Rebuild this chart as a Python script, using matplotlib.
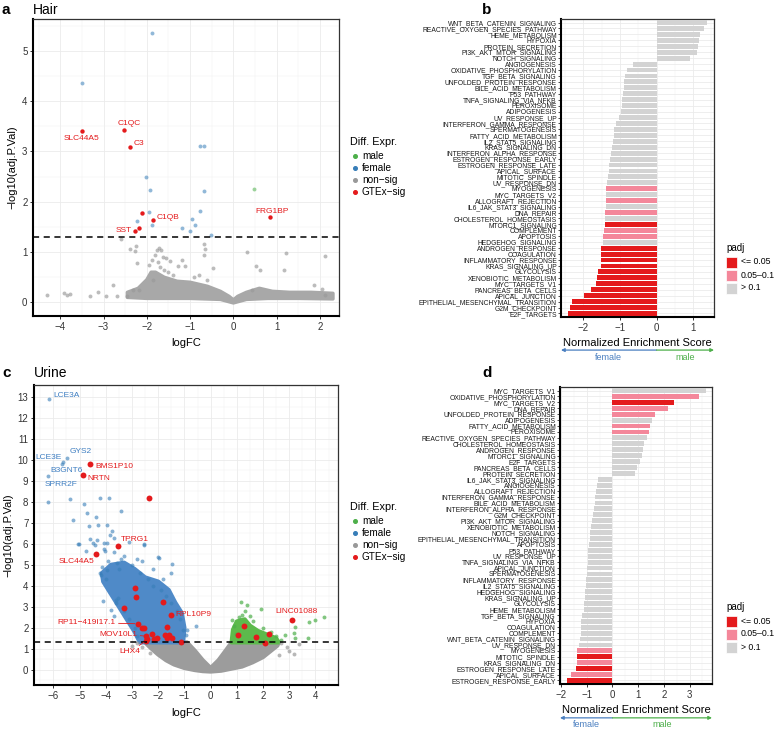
import matplotlib
matplotlib.use('Agg')
import matplotlib.pyplot as plt
from matplotlib.lines import Line2D
from matplotlib.patches import Rectangle, Polygon
from matplotlib.ticker import MultipleLocator

plt.rcParams['font.family'] = ['Liberation Sans', 'DejaVu Sans']

# ---------------- DATA ----------------
# Panel a (Hair) volcano
a_cloud_x = [-2.45, -2.2, -2.0, -1.9, -1.8, -1.6, -1.3, -1.0, -0.6, -0.3, -0.1, 0.0, 0.1, 0.3, 0.6, 0.9, 1.3, 1.8, 2.3,
             2.3, 1.5, 0.8, 0.3, 0.0, -0.3, -1.0, -2.0, -2.45]
a_cloud_y = [0.2, 0.28, 0.45, 0.6, 0.6, 0.5, 0.42, 0.4, 0.32, 0.22, 0.12, 0.05, 0.12, 0.2, 0.28, 0.22, 0.2, 0.2, 0.18,
             0.07, 0.08, 0.08, 0.06, -0.01, 0.06, 0.08, 0.08, 0.1]
a_ns_x = [-4.31, -3.92, -3.85, -3.77, -3.32, -3.13, -2.94, -2.78, -2.69, -2.60, -2.46, -2.38, -2.32, -2.28, -2.24,
          -2.23, -2.17, -1.85, -1.77, -1.71, -1.67, -1.62, -1.55, -1.46, -1.27, -1.19, -1.11, -0.69, -0.65, -0.46,
          -0.69, 0.31, 0.52, 0.61, 0.42, 1.22, 2.12, 1.87, 2.04, 2.12, 1.16,
          -1.95, -1.88, -1.80, -1.75, -1.70, -1.60, -1.50, -1.40, -0.90, -0.80, -0.60]
a_ns_y = [0.14, 0.19, 0.14, 0.17, 0.13, 0.20, 0.13, 0.35, 0.13, 1.26, 0.13, 1.07, 0.24, 1.03, 1.13,
          0.78, 0.25, 0.45, 1.05, 1.08, 1.05, 0.91, 0.88, 0.82, 0.72, 0.85, 0.72, 1.16, 1.07, 0.68,
          0.94, 1.01, 0.73, 0.65, 0.25, 0.99, 0.92, 0.34, 0.26, 0.14, 0.65,
          0.75, 0.85, 0.95, 0.80, 0.70, 0.65, 0.60, 0.55, 0.50, 0.55, 0.45]
a_fem_x = [-1.87, -3.49, -0.78, -0.68, -2.03, -1.93, -0.68, -1.94, -2.23, -1.88, -0.77, -0.95, -0.88, -1.18, -1.00, -0.52]
a_fem_y = [5.36, 4.36, 3.11, 3.11, 2.50, 2.24, 2.21, 1.80, 1.61, 1.54, 1.81, 1.65, 1.53, 1.47, 1.42, 1.33]
a_male_x = [0.47]
a_male_y = [2.25]
a_gtex_x = [-3.49, -2.52, -2.38, -2.11, -1.86, -2.18, -2.28, 0.85]
a_gtex_y = [3.41, 3.43, 3.08, 1.77, 1.63, 1.47, 1.42, 1.69]
a_gtex_lab = ['SLC44A5', 'C1QC', 'C3', '', 'C1QB', '', 'SST', 'FRG1BP']

# Panel c (Urine) volcano
c_cloud_x = [-2.5, -2.3, -2.0, -1.7, -1.4, -1.0, -0.6, -0.3, 0.0, 0.4, 0.8, 1.2, 1.6, 2.0, 2.3, 2.55, 2.6,
             2.0, 1.4, 0.8, 0.6, 0.3, 0.0, -0.3, -0.6, -0.9, -1.5, -2.5]
c_cloud_y = [1.3, 1.05, 0.72, 0.45, 0.25, 0.08, -0.02, -0.07, -0.09, -0.05, 0.05, 0.15, 0.35, 0.6, 0.9, 1.15, 1.3,
             1.3, 1.3, 1.3, 0.95, 0.45, 0.08, 0.45, 0.9, 1.3, 1.3, 1.3]
c_ns_x = [-3.0, -2.8, -2.6, -2.3, 2.7, 2.9, 3.38, 3.17, 3.0, 2.6]
c_ns_y = [1.15, 1.25, 1.10, 0.80, 1.25, 1.10, 1.23, 0.76, 0.90, 0.70]
c_fcore_x = [-1.05, -1.0, -1.1, -1.35, -1.6, -2.0, -2.5, -2.9, -3.3, -3.8, -4.15, -4.1, -3.8, -3.5, -3.2, -2.9, -2.7]
c_fcore_y = [1.3, 2.0, 2.7, 3.2, 3.8, 4.2, 4.4, 4.8, 5.1, 5.0, 4.6, 4.2, 3.6, 3.0, 2.4, 1.8, 1.3]
c_fem_x = [-6.17, -5.49, -5.64, -5.68, -6.21, -6.21, -5.35, -4.82, -4.21, -3.89, -3.41, -4.73, -4.37, -5.25, -4.66,
           -4.30, -3.95, -3.78, -3.85, -5.06, -4.59, -4.33, -4.08, -3.95, -4.40, -4.74, -4.06, -4.02, -2.54, -1.99,
           -2.81, -5.03, -4.50, -4.22, -4.14, -3.95, -1.49, -2.54, -1.97, -3.58, -3.42, -3.49, -4.12, -3.61, -3.52,
           -3.80, -3.68, -0.57, -0.89, -0.95, -4.2, -4.0, -3.9, -3.7, -3.3, -3.0, -2.7, -2.4, -2.2, -1.9, -1.7,
           -1.5, -1.3, -1.15, -1.05, -3.6, -3.3, -3.1, -2.9, -2.8, -1.5, -1.8, -2.2, -2.6, -3.1, -3.7]
c_fem_y = [12.92, 10.11, 9.89, 9.80, 9.23, 7.98, 8.13, 7.91, 8.17, 8.17, 7.58, 7.46, 7.30, 7.14, 6.84,
           6.92, 6.92, 6.62, 6.40, 6.00, 6.24, 6.19, 6.05, 6.05, 5.94, 5.64, 5.75, 5.65, 5.92, 5.39,
           5.29, 5.97, 6.05, 4.63, 4.88, 4.77, 5.02, 5.97, 5.34, 5.09, 5.26, 4.82, 3.26, 3.16, 3.44,
           2.86, 2.57, 2.10, 1.90, 1.67, 4.5, 4.3, 5.2, 5.6, 5.4, 5.0, 4.6, 4.3, 4.0, 3.8, 3.5,
           3.2, 2.8, 2.4, 1.9, 3.3, 2.8, 2.4, 2.0, 1.6, 4.6, 4.3, 4.8, 5.2, 6.1, 6.3]
c_fem_lab = {0: 'LCE3A', 1: 'GYS2', 2: 'LCE3E', 3: 'B3GNT6', 4: 'SPRR2F'}
c_mcore_x = [0.8, 0.85, 1.0, 1.3, 1.5, 1.8, 2.2, 2.5, 2.6]
c_mcore_y = [1.3, 1.9, 2.3, 2.4, 2.1, 1.85, 1.65, 1.5, 1.3]
c_male_x = [1.14, 1.40, 1.91, 0.82, 1.33, 4.33, 3.99, 3.74, 3.21, 3.17, 3.21, 2.85, 3.71,
            0.9, 1.1, 1.6, 2.0, 2.3, 2.5, 2.7, 1.2, 0.95, 1.5]
c_male_y = [3.21, 3.08, 2.89, 2.38, 2.81, 2.50, 2.37, 2.26, 2.02, 1.74, 1.50, 1.63, 1.52,
            2.1, 2.5, 2.3, 2.0, 1.8, 1.6, 1.4, 2.6, 1.7, 2.55]
c_gtex_x = [-4.60, -4.87, -2.37, -3.54, -4.36, -2.89, -2.84, -3.32, -1.81, -1.52, -2.78, -2.56, -2.63, -2.45,
            -2.22, -1.68, -1.74, -1.58, -1.68, -1.46, -1.14, -2.03, -2.17, -2.41, -2.45, 1.04, 1.27, 1.72,
            2.23, 2.06, 3.12]
c_gtex_y = [9.80, 9.26, 8.17, 5.91, 5.51, 3.89, 3.47, 2.95, 3.24, 2.62, 2.19, 2.00, 1.97, 1.60,
            1.71, 2.02, 1.66, 1.66, 1.50, 1.50, 1.33, 1.50, 1.44, 1.47, 1.38, 1.63, 2.07, 1.55,
            1.69, 1.28, 2.38]
c_gtex_lab = {0: 'BMS1P10', 1: 'NRTN', 3: 'TPRG1', 4: 'SLC44A5', 9: 'RPL10P9', 10: 'RP11\u2212419I17.1',
              13: 'MOV10L1', 24: 'LHX4', 30: 'LINC01088'}

# Panel b (Hair GSEA)
b_paths = ['WNT_BETA_CATENIN_SIGNALING', 'REACTIVE_OXYGEN_SPECIES_PATHWAY', 'HEME_METABOLISM', 'HYPOXIA',
           'PROTEIN_SECRETION', 'PI3K_AKT_MTOR_SIGNALING', 'NOTCH_SIGNALING', 'ANGIOGENESIS',
           'OXIDATIVE_PHOSPHORYLATION', 'TGF_BETA_SIGNALING', 'UNFOLDED_PROTEIN_RESPONSE', 'BILE_ACID_METABOLISM',
           'P53_PATHWAY', 'TNFA_SIGNALING_VIA_NFKB', 'PEROXISOME', 'ADIPOGENESIS', 'UV_RESPONSE_UP',
           'INTERFERON_GAMMA_RESPONSE', 'SPERMATOGENESIS', 'FATTY_ACID_METABOLISM', 'IL2_STAT5_SIGNALING',
           'KRAS_SIGNALING_DN', 'INTERFERON_ALPHA_RESPONSE', 'ESTROGEN_RESPONSE_EARLY', 'ESTROGEN_RESPONSE_LATE',
           'APICAL_SURFACE', 'MITOTIC_SPINDLE', 'UV_RESPONSE_DN', 'MYOGENESIS', 'MYC_TARGETS_V2',
           'ALLOGRAFT_REJECTION', 'IL6_JAK_STAT3_SIGNALING', 'DNA_REPAIR', 'CHOLESTEROL_HOMEOSTASIS',
           'MTORC1_SIGNALING', 'COMPLEMENT', 'APOPTOSIS', 'HEDGEHOG_SIGNALING', 'ANDROGEN_RESPONSE',
           'COAGULATION', 'INFLAMMATORY_RESPONSE', 'KRAS_SIGNALING_UP', 'GLYCOLYSIS', 'XENOBIOTIC_METABOLISM',
           'MYC_TARGETS_V1', 'PANCREAS_BETA_CELLS', 'APICAL_JUNCTION', 'EPITHELIAL_MESENCHYMAL_TRANSITION',
           'G2M_CHECKPOINT', 'E2F_TARGETS']
b_nes = [1.38, 1.30, 1.20, 1.17, 1.13, 1.10, 0.92, -0.63, -0.82, -0.85, -0.88, -0.89, -0.91, -0.93, -0.94,
         -0.96, -1.02, -1.12, -1.15, -1.17, -1.20, -1.21, -1.24, -1.27, -1.29, -1.31, -1.33, -1.36, -1.38, -1.38,
         -1.39, -1.39, -1.40, -1.41, -1.42, -1.44, -1.45, -1.46, -1.51, -1.52, -1.53, -1.53, -1.59, -1.62, -1.65,
         -1.79, -1.98, -2.32, -2.36, -2.42]
b_padj = ['ns'] * 28 + ['mid', 'ns', 'mid', 'ns', 'mid', 'ns', 'sig', 'mid', 'mid', 'ns'] + ['sig'] * 12

# Panel d (Urine GSEA)
d_paths = ['MYC_TARGETS_V1', 'OXIDATIVE_PHOSPHORYLATION', 'MYC_TARGETS_V2', 'DNA_REPAIR',
           'UNFOLDED_PROTEIN_RESPONSE', 'ADIPOGENESIS', 'FATTY_ACID_METABOLISM', 'PEROXISOME',
           'REACTIVE_OXYGEN_SPECIES_PATHWAY', 'CHOLESTEROL_HOMEOSTASIS', 'ANDROGEN_RESPONSE', 'MTORC1_SIGNALING',
           'E2F_TARGETS', 'PANCREAS_BETA_CELLS', 'PROTEIN_SECRETION', 'IL6_JAK_STAT3_SIGNALING', 'ANGIOGENESIS',
           'ALLOGRAFT_REJECTION', 'INTERFERON_GAMMA_RESPONSE', 'BILE_ACID_METABOLISM', 'INTERFERON_ALPHA_RESPONSE',
           'G2M_CHECKPOINT', 'PI3K_AKT_MTOR_SIGNALING', 'XENOBIOTIC_METABOLISM', 'NOTCH_SIGNALING',
           'EPITHELIAL_MESENCHYMAL_TRANSITION', 'APOPTOSIS', 'P53_PATHWAY', 'UV_RESPONSE_UP',
           'TNFA_SIGNALING_VIA_NFKB', 'APICAL_JUNCTION', 'SPERMATOGENESIS', 'INFLAMMATORY_RESPONSE',
           'IL2_STAT5_SIGNALING', 'HEDGEHOG_SIGNALING', 'KRAS_SIGNALING_UP', 'GLYCOLYSIS', 'HEME_METABOLISM',
           'TGF_BETA_SIGNALING', 'HYPOXIA', 'COAGULATION', 'COMPLEMENT', 'WNT_BETA_CATENIN_SIGNALING',
           'UV_RESPONSE_DN', 'MYOGENESIS', 'MITOTIC_SPINDLE', 'KRAS_SIGNALING_DN', 'ESTROGEN_RESPONSE_LATE',
           'APICAL_SURFACE', 'ESTROGEN_RESPONSE_EARLY']
d_nes = [3.62, 3.37, 2.38, 2.14, 1.65, 1.55, 1.47, 1.43, 1.33, 1.24, 1.20, 1.13, 1.08, 0.95, 0.86, -0.56,
         -0.59, -0.63, -0.67, -0.69, -0.70, -0.75, -0.78, -0.82, -0.86, -0.88, -0.91, -0.94, -0.95, -0.96,
         -0.98, -0.99, -1.02, -1.04, -1.05, -1.07, -1.09, -1.12, -1.17, -1.21, -1.22, -1.24, -1.27, -1.30,
         -1.38, -1.38, -1.39, -1.42, -1.62, -1.77]
d_padj = ['ns', 'mid', 'sig', 'mid', 'mid', 'ns', 'mid', 'mid'] + ['ns'] * 36 + ['mid', 'sig', 'mid', 'sig', 'mid', 'sig']

padj_labels = ['<= 0.05', '0.05\u20130.1', '> 0.1']
diff_labels = ['male', 'female', 'non\u2212sig', 'GTEx\u2212sig']

# ---------------- STYLE ----------------
W, H = 778, 729
COL = {'male': '#4DAF4A', 'female': '#377EB8', 'ns': '#999999', 'gtex': '#E41A1C'}
PCOL = {'sig': '#E41A1C', 'mid': '#F4879A', 'ns': '#D3D3D3'}
BLUE_T = '#3F7FC2'
GREEN_T = '#4DAF4A'

fig = plt.figure(figsize=(W / 100, H / 100), dpi=100)


def rect(l, t, r, b):
    return [l / W, 1 - b / H, (r - l) / W, (b - t) / H]


def fx(x):
    return x / W


def fy(y):
    return 1 - y / H


def style_axes(ax):
    ax.set_axisbelow(True)
    ax.grid(True, which='major', color='#EBEBEB', lw=0.6)
    ax.grid(True, which='minor', color='#F2F2F2', lw=0.35)
    for s in ['top', 'right']:
        ax.spines[s].set_color('#333333')
        ax.spines[s].set_linewidth(0.9)
    for s in ['left', 'bottom']:
        ax.spines[s].set_color('black')
        ax.spines[s].set_linewidth(1.5)
    ax.tick_params(which='major', length=2.5, width=0.7, color='#333333', labelcolor='#333333', labelsize=7, pad=1.5)
    ax.tick_params(which='minor', length=0)


def volcano(ax, xlim, ylim, xmaj, ymaj):
    style_axes(ax)
    ax.set_xlim(*xlim)
    ax.set_ylim(*ylim)
    ax.xaxis.set_major_locator(MultipleLocator(xmaj))
    ax.xaxis.set_minor_locator(MultipleLocator(xmaj / 2))
    ax.yaxis.set_major_locator(MultipleLocator(ymaj))
    ax.yaxis.set_minor_locator(MultipleLocator(ymaj / 2))
    ax.axhline(1.30103, color='black', lw=1.1, ls=(0, (4, 3)), zorder=5)
    ax.set_xlabel('logFC', fontsize=8, labelpad=5)
    ax.set_ylabel('\u2212log10(adj.P.Val)', fontsize=8, labelpad=3)


# ---------------- PANEL a ----------------
axa = fig.add_axes(rect(33, 19, 339, 316))
volcano(axa, (-4.63, 2.44), (-0.27, 5.63), 1, 1)
axa.add_patch(Polygon(list(zip(a_cloud_x, a_cloud_y)), closed=True, fc='#A8A8A8', ec='#A8A8A8', lw=2.5,
                      joinstyle='round', zorder=2))
axa.scatter(a_ns_x, a_ns_y, s=8, c=COL['ns'], alpha=0.65, lw=0, zorder=3)
axa.scatter(a_fem_x, a_fem_y, s=8, c=COL['female'], alpha=0.55, lw=0, zorder=3)
axa.scatter(a_male_x, a_male_y, s=8, c=COL['male'], alpha=0.55, lw=0, zorder=3)
axa.scatter(a_gtex_x, a_gtex_y, s=10, c=COL['gtex'], lw=0, zorder=4)
a_off = {'SLC44A5': (-1, -8, 'center'), 'C1QC': (5, 6, 'center'), 'C3': (3, 4, 'left'),
         'C1QB': (4, 3, 'left'), 'SST': (-3, 0, 'right'), 'FRG1BP': (2, 6, 'center')}
for x, y, lab in zip(a_gtex_x, a_gtex_y, a_gtex_lab):
    if lab:
        dx, dy, ha = a_off[lab]
        axa.annotate(lab, (x, y), xytext=(dx * 0.72, dy * 0.72), textcoords='offset points', ha=ha,
                     va='center', fontsize=6, color=COL['gtex'], zorder=6)

# ---------------- PANEL c ----------------
axc = fig.add_axes(rect(34, 385, 338, 685))
volcano(axc, (-6.74, 4.86), (-0.73, 13.57), 1, 1)
axc.add_patch(Polygon(list(zip(c_cloud_x, c_cloud_y)), closed=True, fc='#9C9C9C', ec='#9C9C9C', lw=3,
                      joinstyle='round', zorder=2))
axc.scatter(c_ns_x, c_ns_y, s=8, c=COL['ns'], alpha=0.7, lw=0, zorder=3)
axc.add_patch(Polygon(list(zip(c_fcore_x, c_fcore_y)), closed=True, fc='#4F8AC8', ec='#4F8AC8', lw=3,
                      joinstyle='round', zorder=2))
axc.add_patch(Polygon(list(zip(c_mcore_x, c_mcore_y)), closed=True, fc='#5DBA4C', ec='#5DBA4C', lw=3,
                      joinstyle='round', zorder=2))
axc.scatter(c_fem_x, c_fem_y, s=8, c=COL['female'], alpha=0.6, lw=0, zorder=3)
axc.scatter(c_male_x, c_male_y, s=8, c=COL['male'], alpha=0.7, lw=0, zorder=3)
axc.scatter(c_gtex_x, c_gtex_y, s=18, c=COL['gtex'], lw=0, zorder=4)
c_off_f = {'LCE3A': (4, 3, 'left'), 'GYS2': (3, 6, 'left'), 'LCE3E': (-1, 5, 'right'),
           'B3GNT6': (5, -6, 'center'), 'SPRR2F': (13, -8, 'center')}
for i, lab in c_fem_lab.items():
    dx, dy, ha = c_off_f[lab]
    axc.annotate(lab, (c_fem_x[i], c_fem_y[i]), xytext=(dx * 0.72, dy * 0.72), textcoords='offset points',
                 ha=ha, va='center', fontsize=6, color=BLUE_T, zorder=6)
c_off_r = {'BMS1P10': (5, -2, 'left', False), 'NRTN': (4, -3, 'left', False), 'TPRG1': (3, 6, 'left', False),
           'SLC44A5': (-20, -7, 'center', False), 'RPL10P9': (5, 0, 'left', False),
           'RP11\u2212419I17.1': (-22, 1, 'right', True), 'MOV10L1': (-9, 2, 'right', True),
           'LHX4': (-17, -11, 'center', True), 'LINC01088': (4, 8, 'center', False)}
for i, lab in c_gtex_lab.items():
    dx, dy, ha, line = c_off_r[lab]
    ap = dict(arrowstyle='-', color=COL['gtex'], lw=0.6, shrinkA=0, shrinkB=2) if line else None
    axc.annotate(lab, (c_gtex_x[i], c_gtex_y[i]), xytext=(dx * 0.72, dy * 0.72), textcoords='offset points',
                 ha=ha, va='center', fontsize=6, color=COL['gtex'], zorder=6, arrowprops=ap)


# ---------------- BAR PANELS ----------------
def gsea(ax, paths, nes, padj, xlim, xticks, arrow_y, text_y):
    style_axes(ax)
    n = len(paths)
    ypos = [n - 1 - i for i in range(n)]
    ax.barh(ypos, nes, height=0.82, color=[PCOL[p] for p in padj], zorder=3)
    ax.set_yticks(ypos)
    ax.set_yticklabels(paths, fontsize=4.9, color='#1A1A1A')
    ax.tick_params(axis='y', length=2, width=0.6, pad=1)
    ax.set_ylim(-0.6, n - 0.4)
    ax.set_xlim(*xlim)
    ax.set_xticks(xticks)
    ax.set_xticklabels([('\u2212%d' % -t) if t < 0 else '%d' % t for t in xticks])
    ax.xaxis.set_minor_locator(MultipleLocator(0.5))
    ax.grid(True, axis='y', which='major', color='#EBEBEB', lw=0.6)
    ax.set_xlabel('Normalized Enrichment Score', fontsize=8, labelpad=4)
    tr = ax.get_xaxis_transform()
    ax.annotate('', xy=(xlim[0], arrow_y), xytext=(0, arrow_y), xycoords=tr, textcoords=tr,
                arrowprops=dict(arrowstyle='-|>', color='#4A7FC0', lw=0.9, mutation_scale=5, shrinkA=0, shrinkB=0),
                annotation_clip=False)
    ax.annotate('', xy=(xlim[1], arrow_y), xytext=(0, arrow_y), xycoords=tr, textcoords=tr,
                arrowprops=dict(arrowstyle='-|>', color=GREEN_T, lw=0.9, mutation_scale=5, shrinkA=0, shrinkB=0),
                annotation_clip=False)
    ax.text(xlim[0] / 2, text_y, 'female', transform=tr, ha='center', va='center', fontsize=6.5, color='#4A7FC0')
    ax.text(xlim[1] / 2, text_y, 'male', transform=tr, ha='center', va='center', fontsize=6.5, color=GREEN_T)


axb = fig.add_axes(rect(561, 19, 714, 317))
gsea(axb, b_paths, b_nes, b_padj, (-2.61, 1.57), [-2, -1, 0, 1], -0.111, -0.136)
axd = fig.add_axes(rect(560, 387, 712, 684))
gsea(axd, d_paths, d_nes, d_padj, (-2.04, 3.87), [-2, -1, 0, 1, 2, 3], -0.114, -0.138)


# ---------------- LEGENDS & TITLES ----------------
def diff_legend(x, y):
    fig.text(fx(x), fy(y), 'Diff. Expr.', fontsize=7.8, ha='left', va='center')
    cols = [COL['male'], COL['female'], COL['ns'], COL['gtex']]
    for k, (lab, c) in enumerate(zip(diff_labels, cols)):
        yy = y + 14 + 12 * k
        fig.add_artist(Line2D([fx(x + 5)], [fy(yy)], marker='o', ms=2.6, color=c, lw=0,
                              transform=fig.transFigure))
        fig.text(fx(x + 12), fy(yy), lab, fontsize=7.2, ha='left', va='center')


diff_legend(350, 142)
diff_legend(350, 507)


def padj_legend(x, y):
    fig.text(fx(x), fy(y), 'padj', fontsize=7, ha='left', va='center')
    cols = [PCOL['sig'], PCOL['mid'], PCOL['ns']]
    for k, (lab, c) in enumerate(zip(padj_labels, cols)):
        yy = y + 14 + 13 * k
        fig.add_artist(Rectangle((fx(x), fy(yy + 5.5)), 11 / W, 11 / H, transform=fig.transFigure,
                                 fc=c, ec='white', lw=0.5))
        fig.text(fx(x + 15), fy(yy), lab, fontsize=6.3, ha='left', va='center')


padj_legend(726, 248)
padj_legend(726, 607)

fig.text(fx(2), fy(10), 'a', fontsize=11, fontweight='bold', ha='left', va='center')
fig.text(fx(33), fy(10), 'Hair', fontsize=10, ha='left', va='center')
fig.text(fx(482), fy(10), 'b', fontsize=11, fontweight='bold', ha='left', va='center')
fig.text(fx(2), fy(373), 'c', fontsize=11, fontweight='bold', ha='left', va='center')
fig.text(fx(34), fy(373), 'Urine', fontsize=10, ha='left', va='center')
fig.text(fx(482), fy(373), 'd', fontsize=11, fontweight='bold', ha='left', va='center')

fig.savefig('out.png', dpi=100)
